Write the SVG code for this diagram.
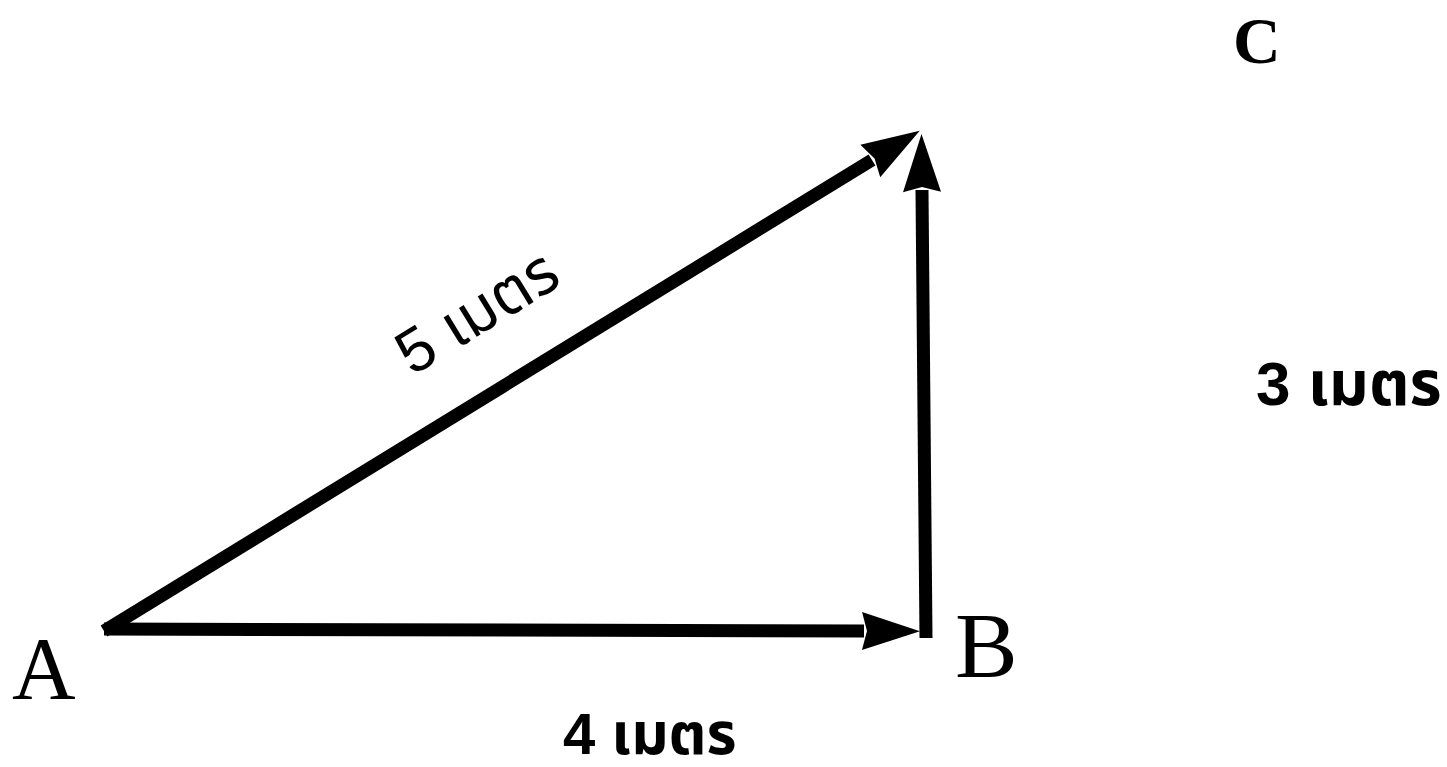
<svg xmlns="http://www.w3.org/2000/svg" width="1447" height="767" viewBox="0 0 1447 767">
<style>
.ln{stroke:#000;stroke-width:13;fill:none;stroke-linecap:butt}
.pt{font-family:"Liberation Serif","Times New Roman",serif;fill:#000}
.th{font-family:"Liberation Sans","Noto Sans Thai","Noto Sans",sans-serif;fill:#000;font-weight:bold}
.thn{font-family:"Liberation Sans","Noto Sans Thai","Noto Sans",sans-serif;fill:#000;font-weight:normal}
</style>
<defs>
<marker id="ah" markerUnits="userSpaceOnUse" viewBox="0 0 58 38" markerWidth="58" markerHeight="38" refX="2" refY="19" orient="auto" overflow="visible">
<path d="M0,0 L58,19 L0,38 L5,19 Z" fill="#000"/>
</marker>
</defs>
<rect width="1447" height="767" fill="#fff"/>
<g id="connectors">
<line id="AB" class="ln" x1="104" y1="629" x2="864" y2="631" marker-end="url(#ah)"/>
<line id="BC" class="ln" x1="926" y1="638" x2="922" y2="190" marker-end="url(#ah)"/>
<line id="AC" class="ln" x1="104" y1="631" x2="872" y2="160" marker-end="url(#ah)"/>
</g>
<g id="node-A"><text class="pt" x="12" y="698" font-size="88">A</text></g>
<g id="node-B"><text class="pt" x="955" y="677" font-size="94">B</text></g>
<g id="node-C"><text class="pt" x="1233" y="63" font-size="66" font-weight="bold">C</text></g>
<g id="label-AC"><text class="thn" x="0" y="0" font-size="62" text-anchor="middle" transform="translate(488,330) rotate(-31.5)">5 เมตร</text></g>
<g id="label-AB"><text class="th" x="563" y="754" font-size="58">4 เมตร</text></g>
<g id="label-BC"><text class="th" x="1256" y="405" font-size="62">3 เมตร</text></g>
</svg>
